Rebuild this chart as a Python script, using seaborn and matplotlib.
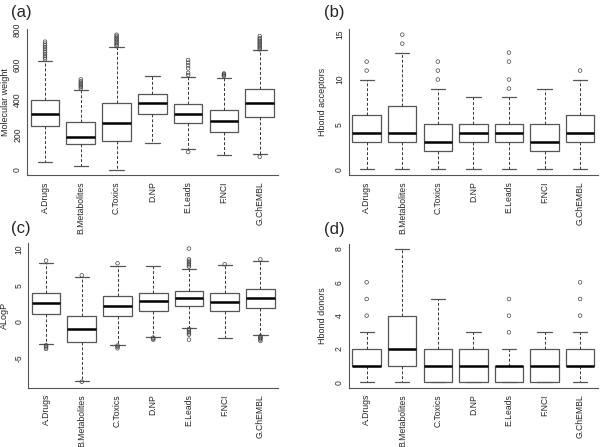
import numpy as np
import pandas as pd
import matplotlib
matplotlib.use('Agg')
import matplotlib.pyplot as plt
import seaborn as sns

# Catégories (mêmes pour les 4 panneaux)
categories = ['A.Drugs', 'B.Metabolites', 'C.Toxics', 'D.NP', 'E.Leads', 'F.NCI', 'G.ChEMBL']

# (a) Molecular weight : moustache basse, Q1, médiane, Q3, moustache haute
mw_low = [42, 19, 0, 155, 116, 84, 90]
mw_q1 = [252, 145, 166, 317, 265, 214, 303]
mw_med = [321, 187, 265, 380, 321, 279, 384]
mw_q3 = [399, 275, 380, 433, 374, 340, 460]
mw_high = [624, 458, 702, 538, 532, 527, 683]
mw_out = [[632, 642, 652, 662, 672, 682, 692, 702, 712, 722, 733],
          [466, 474, 482, 490, 498, 506, 517],
          [708, 716, 724, 732, 740, 748, 756, 764, 773],
          [],
          [542, 555, 580, 597, 613, 628, 101],
          [536, 541, 546, 551],
          [689, 697, 705, 713, 721, 729, 737, 745, 753, 765, 74]]

# (b) Hbond acceptors
hba_low = [0, 0, 0, 0, 0, 0, 0]
hba_q1 = [3, 3, 2, 3, 3, 2, 3]
hba_med = [4, 4, 3, 4, 4, 3, 4]
hba_q3 = [6, 7, 5, 5, 5, 5, 6]
hba_high = [10, 13, 9, 8, 8, 9, 10]
hba_out = [[11, 12], [14, 15], [10, 11, 12], [], [9, 10, 12, 13], [], [11]]

# (c) ALogP
logp_low = [-3.07, -8.17, -3.2, -2.11, -0.87, -2.29, -1.88]
logp_q1 = [1.1, -2.8, 0.83, 1.51, 2.16, 1.51, 1.88]
logp_med = [2.61, -1.0, 2.16, 2.8, 3.26, 2.75, 3.26]
logp_q3 = [3.94, 0.83, 3.58, 3.94, 4.27, 3.99, 4.5]
logp_high = [8.17, 6.24, 7.66, 7.7, 7.34, 7.84, 8.35]
logp_out = [[8.44, -3.26, -3.4, -3.55, -3.76],
            [6.4, -8.3],
            [8.07, -3.3, -3.45, -3.67],
            [-2.2, -2.35, -2.48],
            [10.1, 8.6, 8.4, 8.2, 8.0, 7.8, 7.6, -1.0, -1.2, -1.4, -1.6, -1.8, -2.48],
            [7.94],
            [8.6, -2.0, -2.15, -2.3, -2.45, -2.66]]

# (d) Hbond donors
hbd_low = [0, 0, 0, 0, 0, 0, 0]
hbd_q1 = [1, 1, 0, 0, 0, 0, 1]
hbd_med = [1, 2, 1, 1, 1, 1, 1]
hbd_q3 = [2, 4, 2, 2, 1, 2, 2]
hbd_high = [3, 8, 5, 3, 2, 3, 3]
hbd_out = [[4, 5, 6], [], [], [], [3, 4, 5], [], [4, 5, 6]]

GRIS = '#555555'


def build_frames(low, q1, med, q3, high, outliers):
    """
    Construit les tables longues (boîtes et points aberrants)
    """
    rows = []
    for i, cat in enumerate(categories):
        for v in (low[i], q1[i], med[i], q3[i], high[i]):
            rows.append((cat, v))
    box_df = pd.DataFrame(rows, columns=['categorie', 'valeur'])

    out_rows = [(cat, v) for i, cat in enumerate(categories) for v in outliers[i]]
    out_df = pd.DataFrame(out_rows, columns=['categorie', 'valeur'])
    return box_df, out_df


def draw_panel(fig, rect, stats, ylabel, label_x, ylim, yticks, letter, letter_pos):
    ax = fig.add_axes(rect)
    box_df, out_df = build_frames(*stats)

    sns.boxplot(data=box_df, x='categorie', y='valeur', order=categories, ax=ax,
                whis=(0, 100), showfliers=False, width=0.8,
                boxprops=dict(facecolor='white', edgecolor=GRIS, linewidth=0.9),
                medianprops=dict(color='black', linewidth=1.8),
                whiskerprops=dict(color='#333333', linestyle=(0, (3, 2)), linewidth=0.7),
                capprops=dict(color=GRIS, linewidth=0.9))

    if len(out_df):
        sns.stripplot(data=out_df, x='categorie', y='valeur', order=categories, ax=ax,
                      jitter=False, size=2.6, color=GRIS, linewidth=0.5)
        for coll in ax.collections:
            coll.set_facecolor('none')
            coll.set_edgecolor('#444444')
            coll.set_linewidth(0.5)

    ax.set_xlim(-0.5, 6.5)
    ax.set_ylim(*ylim)
    ax.set_yticks(yticks)
    ax.set_yticklabels([str(t) for t in yticks], rotation=90, va='center')
    ax.set_xticks(range(len(categories)))
    ax.set_xticklabels(categories, rotation=90)
    ax.set_xlabel('')
    ax.set_ylabel(ylabel, fontsize=6.5)
    ax.yaxis.set_label_coords(label_x, 0.5)
    ax.tick_params(axis='both', labelsize=6.2, length=3.2, width=0.7, color=GRIS)
    ax.tick_params(axis='y', pad=0.4)
    ax.tick_params(axis='x', pad=1.5)

    for side in ['top', 'right']:
        ax.spines[side].set_visible(False)
    for side in ['left', 'bottom']:
        ax.spines[side].set_color(GRIS)
        ax.spines[side].set_linewidth(0.8)

    fig.text(letter_pos[0], letter_pos[1], letter, fontsize=12, ha='left', va='center')
    return ax


def main():
    sns.set_style('white')
    plt.rcParams['font.family'] = ['Liberation Sans', 'DejaVu Sans']

    fig = plt.figure(figsize=(6.0, 4.47), dpi=100)

    draw_panel(fig, [0.0452, 0.6083, 0.4175, 0.3262],
               (mw_low, mw_q1, mw_med, mw_q3, mw_high, mw_out),
               'Molecular weight', -0.068, (-31, 804), [0, 200, 400, 600, 800],
               '(a)', (0.018, 0.972))
    draw_panel(fig, [0.5815, 0.6092, 0.4150, 0.3253],
               (hba_low, hba_q1, hba_med, hba_q3, hba_high, hba_out),
               'Hbond acceptors', -0.086, (-0.6, 15.6), [0, 5, 10, 15],
               '(b)', (0.540, 0.972))
    draw_panel(fig, [0.0470, 0.1331, 0.4168, 0.3228],
               (logp_low, logp_q1, logp_med, logp_q3, logp_high, logp_out),
               'ALogP', -0.075, (-9.09, 10.84), [-5, 0, 5, 10],
               '(c)', (0.018, 0.488))
    draw_panel(fig, [0.5815, 0.1329, 0.4150, 0.3220],
               (hbd_low, hbd_q1, hbd_med, hbd_q3, hbd_high, hbd_out),
               'Hbond donors', -0.086, (-0.32, 8.32), [0, 2, 4, 6, 8],
               '(d)', (0.540, 0.486))

    fig.savefig('out.png', dpi=100)
    plt.close(fig)


if __name__ == "__main__":
    main()
